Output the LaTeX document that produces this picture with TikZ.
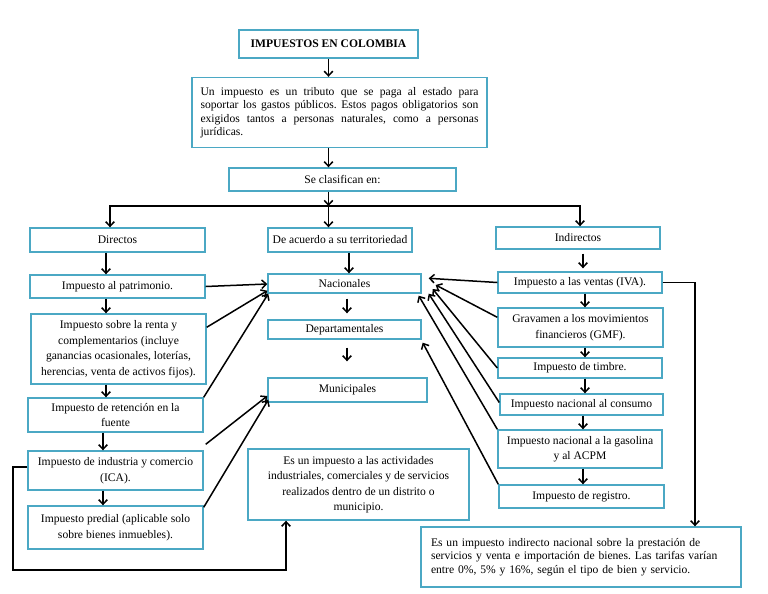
\documentclass[tikz,border=0pt]{standalone}
\usepackage{fontspec}
\setmainfont{Liberation Serif}
\usetikzlibrary{arrows.meta,calc}
\definecolor{boxc}{RGB}{75,168,196}
\frenchspacing
\begin{document}
\begin{tikzpicture}[x=1pt,y=-1pt,
  bx/.style={draw=boxc,line width=1.4pt,fill=white,inner sep=0pt,align=center,
    font=\fontsize{11.6}{15.5}\selectfont},
  arr/.style={-{Straight Barb[length=4.5pt,width=8.5pt]},line width=1.5pt},
  ln/.style={line width=1.5pt,line cap=rect}]
\useasboundingbox[fill=white] (0,0) rectangle (768,594);

% nodes
\node[bx,minimum width=179pt,minimum height=28pt,font=\fontsize{11.6}{14}\selectfont\bfseries] (title) at (328.5,44) {IMPUESTOS EN COLOMBIA};
\node[bx,minimum width=295pt,minimum height=70pt,text width=278pt,align=justify,font=\fontsize{11.6}{13.5}\selectfont] (def) at (339.5,112.5)
 {Un impuesto es un tributo que se paga al estado para\linebreak soportar los gastos públicos. Estos pagos obligatorios son\linebreak exigidos tantos a personas naturales, como a personas\linebreak jurídicas.};
\node[bx,minimum width=227pt,minimum height=23pt] (se) at (342.5,179.5) {Se clasifican en:};
\node[bx,minimum width=175pt,minimum height=24pt] (dir) at (117.5,240) {Directos};
\node[bx,minimum width=144pt,minimum height=24pt] (terr) at (340,240) {De acuerdo a su territoriedad};
\node[bx,minimum width=164pt,minimum height=22pt] (ind) at (578,238) {Indirectos};

\node[bx,minimum width=175pt,minimum height=23pt] (pat) at (117.5,286.5) {Impuesto al patrimonio.};
\node[bx,minimum width=175pt,minimum height=70pt] (renta) at (118.5,349) {Impuesto sobre la renta y\\complementarios (incluye\\ganancias ocasionales, loterías,\\herencias, venta de activos fijos).};
\node[bx,minimum width=175pt,minimum height=34pt] (ret) at (115.5,415) {Impuesto de retención en la\\fuente};
\node[bx,minimum width=175pt,minimum height=39pt] (ica) at (115.5,470.5) {Impuesto de industria y comercio\\(ICA).};
\node[bx,minimum width=175pt,minimum height=43pt] (pred) at (115.5,527.5) {Impuesto predial (aplicable solo\\sobre bienes inmuebles).};

\node[bx,minimum width=153pt,minimum height=19pt] (nac) at (344.5,283.5) {Nacionales};
\node[bx,minimum width=153pt,minimum height=19pt] (dep) at (344.5,329.5) {Departamentales};
\node[bx,minimum width=159pt,minimum height=24pt] (mun) at (347.5,390) {Municipales};
\node[bx,minimum width=221pt,minimum height=71pt] (act) at (358.5,484.5) {Es un impuesto a las actividades\\industriales, comerciales y de servicios\\realizados dentro de un distrito o\\municipio.};

\node[bx,minimum width=164pt,minimum height=21pt] (iva) at (580,282.5) {Impuesto a las ventas (IVA).};
\node[bx,minimum width=165pt,minimum height=39pt] (gmf) at (580.5,327.5) {Gravamen a los movimientos\\financieros (GMF).};
\node[bx,minimum width=164pt,minimum height=20pt] (tim) at (580,368) {Impuesto de timbre.};
\node[bx,minimum width=163pt,minimum height=21pt] (con) at (581.5,404.5) {Impuesto nacional al consumo};
\node[bx,minimum width=164pt,minimum height=38pt] (gas) at (580,449) {Impuesto nacional a la gasolina\\y al ACPM};
\node[bx,minimum width=165pt,minimum height=23pt] (reg) at (581.5,496.5) {Impuesto de registro.};
\node[bx,minimum width=320pt,minimum height=60pt,text width=300pt,align=left,font=\fontsize{11.6}{13.3}\selectfont] (big) at (581,557)
 {Es un impuesto indirecto nacional sobre la prestación de\\servicios y venta e importación de bienes. Las tarifas varían\\entre 0\%, 5\% y 16\%, según el tipo de bien y servicio.\par\vspace*{15pt}};

% top chain
\draw[arr] (title.south) -- (title.south |- def.north);
\draw[arr] (title.south |- def.south) -- (title.south |- se.north);
\coordinate (split) at (328.5,206);
\coordinate (sl) at (110,206);
\coordinate (sr) at (580,206);
\draw[arr] (split |- se.south) -- (split);
\draw[ln] (sl) -- (sr);
\draw[arr] (sl) -- (sl |- dir.north);
\draw[arr] (split) -- (split |- terr.north);
\draw[arr] (sr) -- (sr |- ind.north);

% left column
\draw[arr] ($(dir.south)+(-11.5,0)$) -- ($(pat.north)+(-11.5,0)$);
\draw[arr] ($(pat.south)+(-11.5,0)$) -- ($(renta.north)+(-12.5,0)$);
\draw[arr] ($(renta.south)+(-12.5,0)$) -- ($(ret.north)+(-9.5,0)$);
\draw[arr] ($(ret.south)+(-12.5,0)$) -- ($(ica.north)+(-12.5,0)$);
\draw[arr] ($(ica.south)+(-12.5,0)$) -- ($(pred.north)+(-12.5,0)$);

% middle column
\draw[arr] ($(terr.south)+(9,0)$) -- ($(nac.north)+(4.5,0)$);
\draw[arr] ($(nac.south)+(2.5,5)$) -- ($(dep.north)+(2.5,-6)$);
\draw[arr] ($(dep.south)+(2.5,8)$) -- ($(mun.north)+(-0.5,-16)$);

% right column
\draw[arr] ($(ind.south)+(5,4)$) -- ($(iva.north)+(3,-3)$);
\draw[arr] ($(iva.south)+(5,0)$) -- ($(gmf.north)+(4.5,0)$);
\draw[arr] ($(gmf.south)+(4.5,0)$) -- ($(tim.north)+(5,0)$);
\draw[arr] ($(tim.south)+(5,0)$) -- ($(con.north)+(3.5,0)$);
\draw[arr] ($(con.south)+(1.5,0)$) -- ($(gas.north)+(3,0)$);
\draw[arr] ($(gas.south)+(3,0)$) -- ($(reg.north)+(1.5,0)$);

% left to middle
\draw[arr] (pat.east) -- ($(nac.west)+(0,0.5)$);
\draw[arr] ($(renta.north east)+(0,14)$) -- ($(nac.south west)+(0,-3)$);
\draw[arr] (ret.north east) -- ($(nac.south west)+(1,0)$);
\draw[arr] ($(ica.north east)+(2,-6)$) -- ($(mun.west)+(0,6)$);
\draw[arr] ($(pred.north east)+(0,2)$) -- ($(mun.south west)+(1,-3)$);

% right to middle
\draw[arr] (iva.west) -- ($(nac.north east)+(7,5)$);
\draw[arr] ($(gmf.north west)+(0,10)$) -- ($(nac.east)+(14,1.5)$);
\draw[arr] (tim.west) -- ($(nac.east)+(11,5.5)$);
\draw[arr] ($(con.west)+(0,-2)$) -- ($(nac.south east)+(7,0)$);
\draw[arr] (gas.north west) -- ($(nac.south east)+(-3,2)$);
\draw[arr] (reg.north west) -- ($(dep.south east)+(1,3)$);

% IVA to description
\coordinate (ivr) at (695,282.5);
\draw[arr] (iva.east) -- (ivr) -- (ivr |- big.north);

% ICA loop
\coordinate (lpa) at (13,570);
\coordinate (lpb) at (286,570);
\draw[arr] ($(ica.west)+(0,-3.5)$) -| (lpa) -- (lpb) -- (lpb |- act.south);
\end{tikzpicture}
\end{document}
